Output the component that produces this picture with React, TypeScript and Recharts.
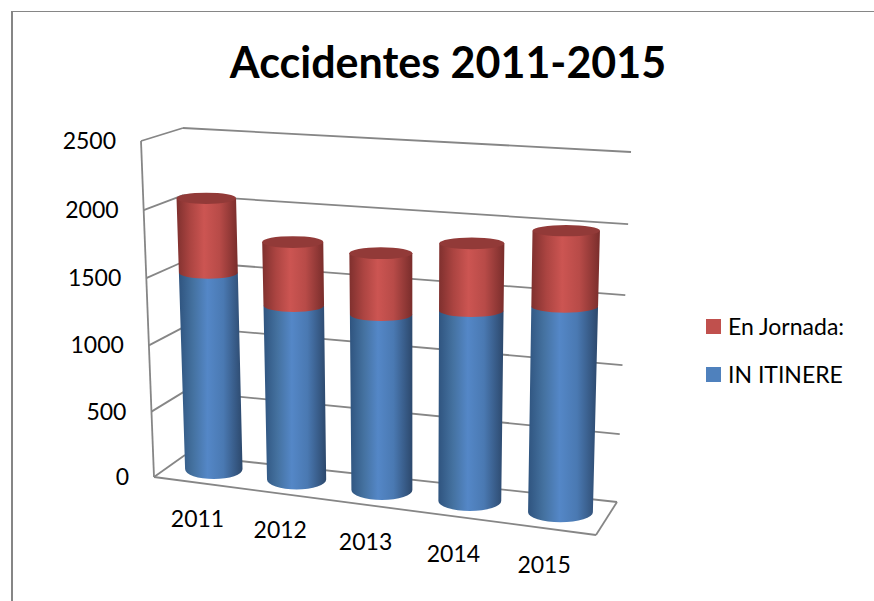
import { Bar, BarChart, CartesianGrid, Legend, XAxis, YAxis } from 'recharts';

const years = ['2011', '2012', '2013', '2014', '2015'];
const inItinere = [1508, 1321, 1314, 1403, 1493];
const enJornada = [549, 466, 445, 479, 529];
const yTicks = [0, 500, 1000, 1500, 2000, 2500];

const data = years.map((year, i) => ({ year, inItinere: inItinere[i], enJornada: enJornada[i] }));

const FONT = 'Lato, sans-serif';
const LINE = '#868686';

// flat plot rectangle, everything inside it gets pushed through a perspective map
const PLOT = { left: 141, top: 128, right: 631, bottom: 477 };
const PLOT_W = PLOT.right - PLOT.left;
const PLOT_H = PLOT.bottom - PLOT.top;

type Pt = [number, number];

// unit square -> quad (tl, tr, br, bl)
function homography(p0: Pt, p1: Pt, p2: Pt, p3: Pt) {
  const dx1 = p1[0] - p2[0];
  const dx2 = p3[0] - p2[0];
  const sx = p0[0] - p1[0] + p2[0] - p3[0];
  const dy1 = p1[1] - p2[1];
  const dy2 = p3[1] - p2[1];
  const sy = p0[1] - p1[1] + p2[1] - p3[1];
  const det = dx1 * dy2 - dx2 * dy1;
  const g = (sx * dy2 - dx2 * sy) / det;
  const h = (dx1 * sy - sx * dy1) / det;
  const a = p1[0] - p0[0] + g * p1[0];
  const b = p3[0] - p0[0] + h * p3[0];
  const d = p1[1] - p0[1] + g * p1[1];
  const e = p3[1] - p0[1] + h * p3[1];
  return (u: number, v: number): Pt => {
    const w = g * u + h * v + 1;
    return [(a * u + b * v + p0[0]) / w, (d * u + e * v + p0[1]) / w];
  };
}

const backWall = homography([183, 128], [631, 152], [617, 502], [185, 455]);
const barPlane = homography([162, 134.5], [616, 164], [606.5, 518], [173, 464]);

const toU = (x: number) => (x - PLOT.left) / PLOT_W;
const toV = (y: number) => (y - PLOT.top) / PLOT_H;

const lerp = (a: Pt, b: Pt, t: number): Pt => [a[0] + (b[0] - a[0]) * t, a[1] + (b[1] - a[1]) * t];

const FLOOR_FRONT_LEFT: Pt = [154, 477];
const FLOOR_FRONT_RIGHT: Pt = [596, 535];

// the left wall shares the back wall's height spacing
function wallFraction(v: number) {
  return (backWall(0, v)[1] - 128) / (455 - 128);
}
const leftFront = (v: number) => lerp([141, 141], FLOOR_FRONT_LEFT, wallFraction(v));
const leftBack = (v: number) => backWall(0, v);

function seg(a: Pt, b: Pt, key: string) {
  return <line key={key} x1={a[0]} y1={a[1]} x2={b[0]} y2={b[1]} stroke={LINE} strokeWidth={1.8} />;
}

function GridLine(props: any) {
  const v = toV(props.y1);
  const lines = [seg(backWall(0, v), backWall(1, v), 'back'), seg(leftFront(v), leftBack(v), 'left')];
  if (Math.abs(v) < 0.001) {
    lines.push(seg(leftFront(0), leftFront(1), 'edge'));
  }
  if (Math.abs(v - 1) < 0.001) {
    lines.push(seg(FLOOR_FRONT_LEFT, FLOOR_FRONT_RIGHT, 'front'));
    lines.push(seg(FLOOR_FRONT_RIGHT, backWall(1, 1), 'side'));
  }
  return <g>{lines}</g>;
}

function YTick(props: any) {
  const [x, y] = leftFront(toV(props.y));
  return (
    <text x={x - 25} y={y + 8} textAnchor="end" fontFamily={FONT} fontSize={23} fill="#000">
      {props.payload.value}
    </text>
  );
}

function XTick(props: any) {
  const u = toU(props.x);
  const x = barPlane(u, 1)[0] - 16;
  const y = lerp(FLOOR_FRONT_LEFT, FLOOR_FRONT_RIGHT, u)[1] + 44;
  return (
    <text x={x} y={y} textAnchor="middle" fontFamily={FONT} fontSize={23} fill="#000">
      {props.payload.value}
    </text>
  );
}

const ellipseRy = (v: number) => 5.5 + 4.5 * v * v;

function cylinder(gradient: string, capFill?: string) {
  return function CylinderShape(props: any) {
    const u0 = toU(props.x);
    const u1 = toU(props.x + props.width);
    const vTop = toV(props.y);
    const vBottom = toV(props.y + props.height);
    const tl = barPlane(u0, vTop);
    const tr = barPlane(u1, vTop);
    const bl = barPlane(u0, vBottom);
    const br = barPlane(u1, vBottom);
    // ends of the cylinder stay level, only the walls lean
    const topY = (tl[1] + tr[1]) / 2;
    const bottomY = (bl[1] + br[1]) / 2;
    const rx = (br[0] - bl[0]) / 2;
    const ry = ellipseRy(vBottom);
    const body = `M${tl[0]},${topY} L${bl[0]},${bottomY} A${rx},${ry} 0 0 0 ${br[0]},${bottomY} L${tr[0]},${topY} Z`;
    return (
      <g>
        <path d={body} fill={`url(#${gradient})`} />
        {capFill && (
          <ellipse
            cx={(tl[0] + tr[0]) / 2}
            cy={topY}
            rx={(tr[0] - tl[0]) / 2}
            ry={ellipseRy(vTop)}
            fill={capFill}
          />
        )}
      </g>
    );
  };
}

function LegendBox({ payload }: any) {
  return (
    <div>
      {(payload ?? []).map((item: any) => (
        <div key={item.value} style={{ display: 'flex', alignItems: 'center', height: 48 }}>
          <span style={{ width: 15, height: 15, background: item.color, marginRight: 7 }} />
          <span style={{ fontFamily: FONT, fontSize: 23, color: '#000', whiteSpace: 'nowrap' }}>{item.value}</span>
        </div>
      ))}
    </div>
  );
}

export default function App() {
  return (
    <div style={{ position: 'absolute', left: 0, top: 0, width: 874, height: 601, overflow: 'hidden', background: '#fff' }}>
      <div
        style={{
          position: 'absolute',
          left: 11,
          top: 11,
          width: 880,
          height: 620,
          borderLeft: `2px solid ${LINE}`,
          borderTop: `1px solid ${LINE}`,
        }}
      />
      <div style={{ position: 'absolute', left: 0, top: 0 }}>
        <BarChart
          width={874}
          height={601}
          data={data}
          barCategoryGap="15%"
          margin={{ top: PLOT.top, left: PLOT.left - 1, right: 874 - PLOT.right, bottom: 601 - PLOT.bottom - 1 }}
        >
          <defs>
            <linearGradient id="blueCyl" x1="0" y1="0" x2="1" y2="0">
              <stop offset="0%" stopColor="#2f547f" />
              <stop offset="22%" stopColor="#44719f" />
              <stop offset="45%" stopColor="#5487c7" />
              <stop offset="70%" stopColor="#4a79b2" />
              <stop offset="100%" stopColor="#2c486c" />
            </linearGradient>
            <linearGradient id="redCyl" x1="0" y1="0" x2="1" y2="0">
              <stop offset="0%" stopColor="#7f302e" />
              <stop offset="22%" stopColor="#ab4441" />
              <stop offset="45%" stopColor="#cc5552" />
              <stop offset="70%" stopColor="#b84b48" />
              <stop offset="100%" stopColor="#792d2b" />
            </linearGradient>
          </defs>
          <text x={448} y={78} textAnchor="middle" fontFamily={FONT} fontWeight={700} fontSize={43} fill="#000">
            Accidentes 2011-2015
          </text>
          <CartesianGrid horizontal={GridLine} vertical={false} />
          <XAxis dataKey="year" height={1} axisLine={false} tickLine={false} interval={0} tick={XTick} />
          <YAxis width={1} domain={[0, 2500]} ticks={yTicks} axisLine={false} tickLine={false} tick={YTick} />
          <Legend
            layout="vertical"
            align="center"
            verticalAlign="middle"
            content={LegendBox}
            wrapperStyle={{ left: 706, top: 302, width: 160 }}
          />
          <Bar dataKey="inItinere" name="IN ITINERE" stackId="a" fill="#4F81BD" isAnimationActive={false} shape={cylinder('blueCyl')} />
          <Bar dataKey="enJornada" name="En Jornada:" stackId="a" fill="#C0504D" isAnimationActive={false} shape={cylinder('redCyl', '#923a38')} />
        </BarChart>
      </div>
    </div>
  );
}
